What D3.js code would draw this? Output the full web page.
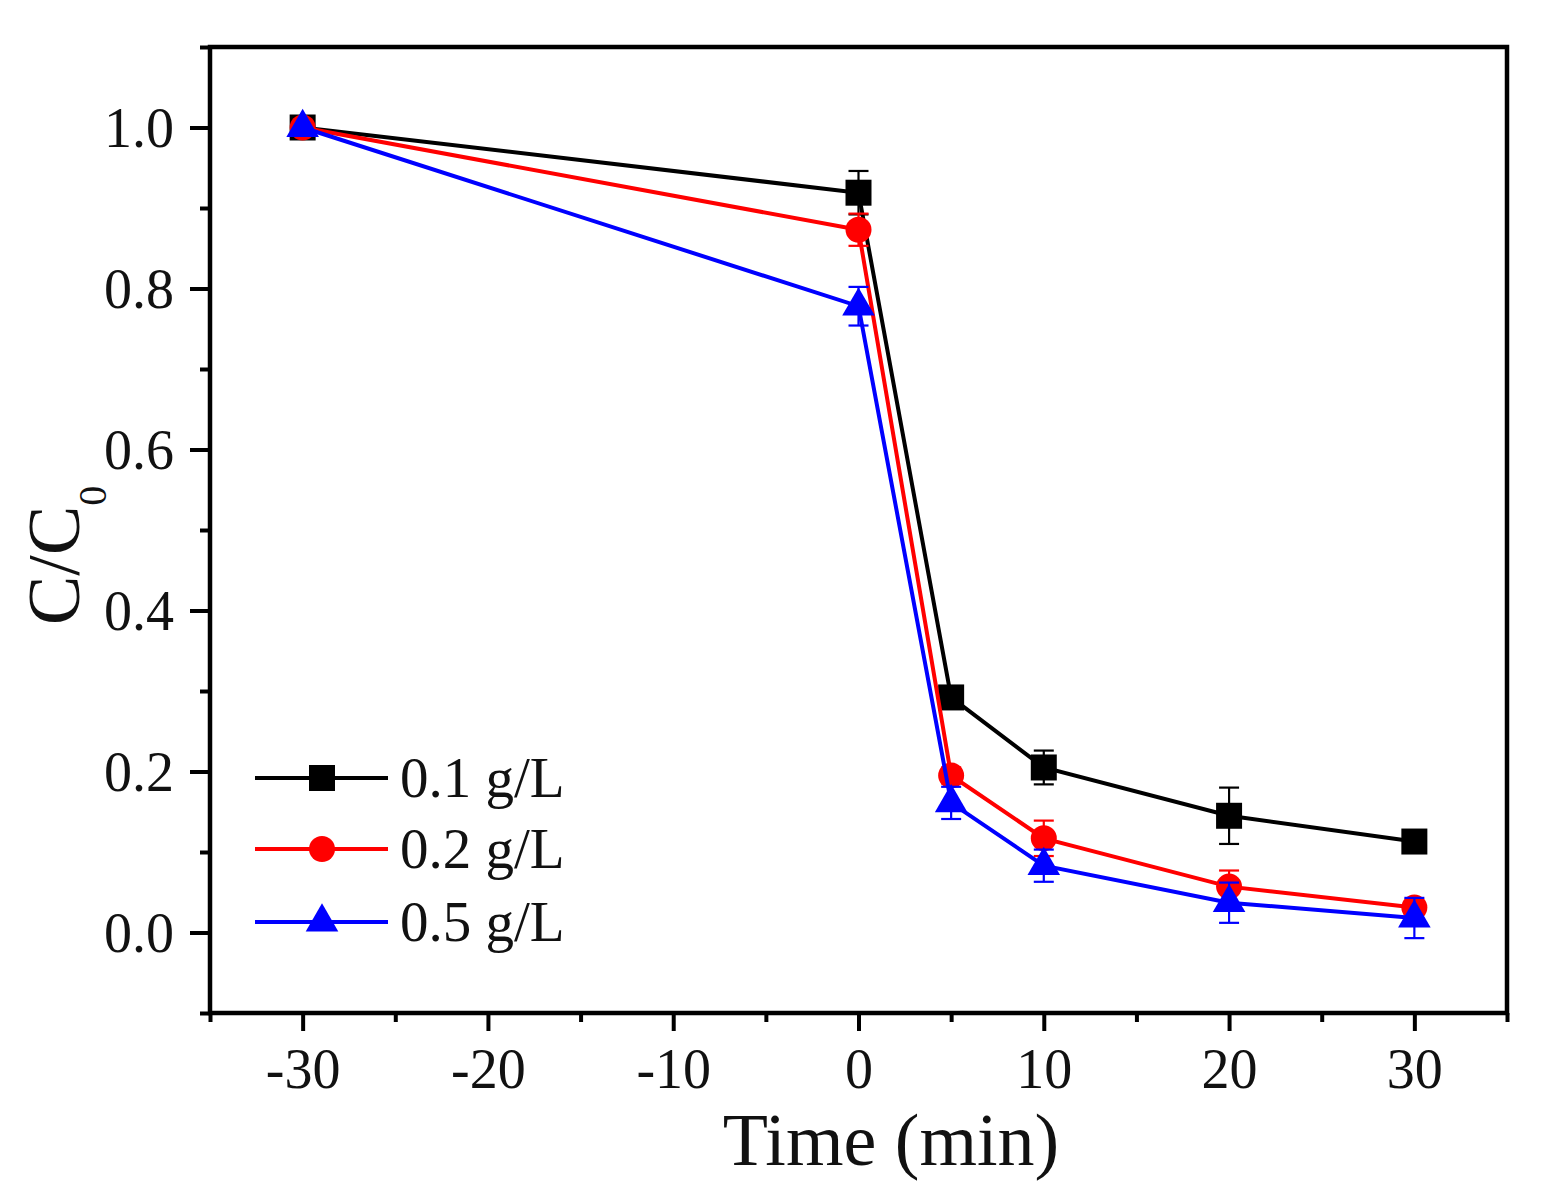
<!DOCTYPE html>
<html>
<head>
<meta charset="utf-8">
<script src="https://cdn.jsdelivr.net/npm/d3@7"></script>
<style>
  html, body { margin: 0; padding: 0; background: #fff; }
  svg { display: block; }
  text { font-family: "Liberation Serif", "Times New Roman", serif; fill: #111; }
</style>
</head>
<body>
<svg id="chart" width="1550" height="1190"></svg>
<script>
// --- data
const TIMES = [-30, 0, 5, 10, 20, 30];
const SERIES_LABELS = ["0.1 g/L", "0.2 g/L", "0.5 g/L"];

const C_01 = [1.0, 0.919, 0.292, 0.205, 0.145, 0.113];
const ERR_01 = [0, 0.027, 0.008, 0.021, 0.035, 0.008];

const C_02 = [1.0, 0.873, 0.195, 0.117, 0.057, 0.031];
const ERR_02 = [0, 0.02, 0.01, 0.022, 0.02, 0.008];

const C_05 = [1.0, 0.778, 0.161, 0.083, 0.037, 0.018];
const ERR_05 = [0, 0.024, 0.02, 0.02, 0.025, 0.025];

const X_MAJOR = [-30, -20, -10, 0, 10, 20, 30];
const X_MINOR = [-35, -25, -15, -5, 5, 15, 25, 35];
const Y_MAJOR = [0, 0.2, 0.4, 0.6, 0.8, 1.0];
const Y_MINOR = [-0.1, 0.1, 0.3, 0.5, 0.7, 0.9, 1.1];

const series = [
  { label: SERIES_LABELS[0], values: C_01, errors: ERR_01, color: "#000000", shape: "square" },
  { label: SERIES_LABELS[1], values: C_02, errors: ERR_02, color: "#ff0000", shape: "circle" },
  { label: SERIES_LABELS[2], values: C_05, errors: ERR_05, color: "#0000ff", shape: "triangle" }
];

// --- geometry
const plotLeft = 210, plotRight = 1507, plotTop = 47, plotBottom = 1013;

const x = d3.scaleLinear().domain([-35, 35]).range([plotLeft, plotRight]);
const y = d3.scaleLinear().domain([-0.1, 1.1]).range([plotBottom, plotTop]);

const svg = d3.select("#chart");

const SYMBOLS = {
  square: d3.symbol().type(d3.symbolSquare).size(26 * 26),
  circle: d3.symbol().type(d3.symbolCircle).size(Math.PI * 13 * 13),
  triangle: d3.symbol().type(d3.symbolTriangle).size(460)
};

// --- axes (major + minor ticks, outward)
function styleAxis(g) {
  g.select(".domain").remove();
  g.selectAll(".tick line").attr("stroke", "#000").attr("stroke-width", 4);
}

svg.append("g")
  .attr("transform", `translate(0,${plotBottom})`)
  .call(d3.axisBottom(x).tickValues(X_MINOR).tickSize(9).tickFormat(""))
  .call(styleAxis);

const xAxis = svg.append("g")
  .attr("transform", `translate(0,${plotBottom})`)
  .call(d3.axisBottom(x).tickValues(X_MAJOR).tickSize(18).tickFormat((d) => String(d)))
  .call(styleAxis);
xAxis.selectAll(".tick text")
  .attr("y", 75)
  .attr("dy", 0)
  .style("font-size", "56px")
  .style("font-family", "'Liberation Serif', serif")
  .attr("fill", "#111");

svg.append("g")
  .attr("transform", `translate(${plotLeft},0)`)
  .call(d3.axisLeft(y).tickValues(Y_MINOR).tickSize(10).tickFormat(""))
  .call(styleAxis);

const yAxis = svg.append("g")
  .attr("transform", `translate(${plotLeft},0)`)
  .call(d3.axisLeft(y).tickValues(Y_MAJOR).tickSize(20).tickFormat(d3.format(".1f")))
  .call(styleAxis);
yAxis.selectAll(".tick text")
  .attr("x", -36)
  .attr("dy", "0.34em")
  .style("font-size", "56px")
  .style("font-family", "'Liberation Serif', serif")
  .attr("fill", "#111");

// frame
svg.append("rect")
  .attr("x", plotLeft)
  .attr("y", plotTop)
  .attr("width", plotRight - plotLeft)
  .attr("height", plotBottom - plotTop)
  .attr("fill", "none")
  .attr("stroke", "#000")
  .attr("stroke-width", 4.5);

// --- axis titles
svg.append("text")
  .attr("x", 891)
  .attr("y", 1165)
  .attr("text-anchor", "middle")
  .style("font-size", "74px")
  .text("Time (min)");

const yTitle = svg.append("text")
  .attr("transform", "translate(79,625) rotate(-90)")
  .style("font-size", "74px");
yTitle.append("tspan").text("C/C");
yTitle.append("tspan").attr("dy", 27).style("font-size", "40px").text("0");

// --- series
const line = d3.line()
  .x((d) => x(d.t))
  .y((d) => y(d.v));

const capW = 10;

series.forEach((s) => {
  const pts = TIMES.map((t, i) => ({ t, v: s.values[i], e: s.errors[i] }));
  const layer = svg.append("g");

  layer.append("path")
    .datum(pts)
    .attr("d", line)
    .attr("fill", "none")
    .attr("stroke", s.color)
    .attr("stroke-width", 4);

  const eb = layer.selectAll(".err")
    .data(pts.filter((d) => d.e > 0))
    .enter()
    .append("g")
    .attr("stroke", s.color)
    .attr("stroke-width", 2.2);

  eb.append("line")
    .attr("x1", (d) => x(d.t)).attr("x2", (d) => x(d.t))
    .attr("y1", (d) => y(d.v - d.e)).attr("y2", (d) => y(d.v + d.e));
  eb.append("line")
    .attr("x1", (d) => x(d.t) - capW).attr("x2", (d) => x(d.t) + capW)
    .attr("y1", (d) => y(d.v + d.e)).attr("y2", (d) => y(d.v + d.e));
  eb.append("line")
    .attr("x1", (d) => x(d.t) - capW).attr("x2", (d) => x(d.t) + capW)
    .attr("y1", (d) => y(d.v - d.e)).attr("y2", (d) => y(d.v - d.e));

  layer.selectAll(".mark")
    .data(pts)
    .enter()
    .append("path")
    .attr("d", SYMBOLS[s.shape])
    .attr("transform", (d) => `translate(${x(d.t)},${y(d.v)})`)
    .attr("fill", s.color);
});

// --- legend
const legendRows = [778, 849, 922];
series.forEach((s, i) => {
  const ly = legendRows[i];
  const g = svg.append("g");
  g.append("line")
    .attr("x1", 255).attr("x2", 388)
    .attr("y1", ly).attr("y2", ly)
    .attr("stroke", s.color)
    .attr("stroke-width", 4);
  g.append("path")
    .attr("d", SYMBOLS[s.shape])
    .attr("transform", `translate(322,${ly})`)
    .attr("fill", s.color);
  g.append("text")
    .attr("x", 400)
    .attr("y", ly + 19)
    .style("font-size", "57px")
    .text(s.label);
});
</script>
</body>
</html>
